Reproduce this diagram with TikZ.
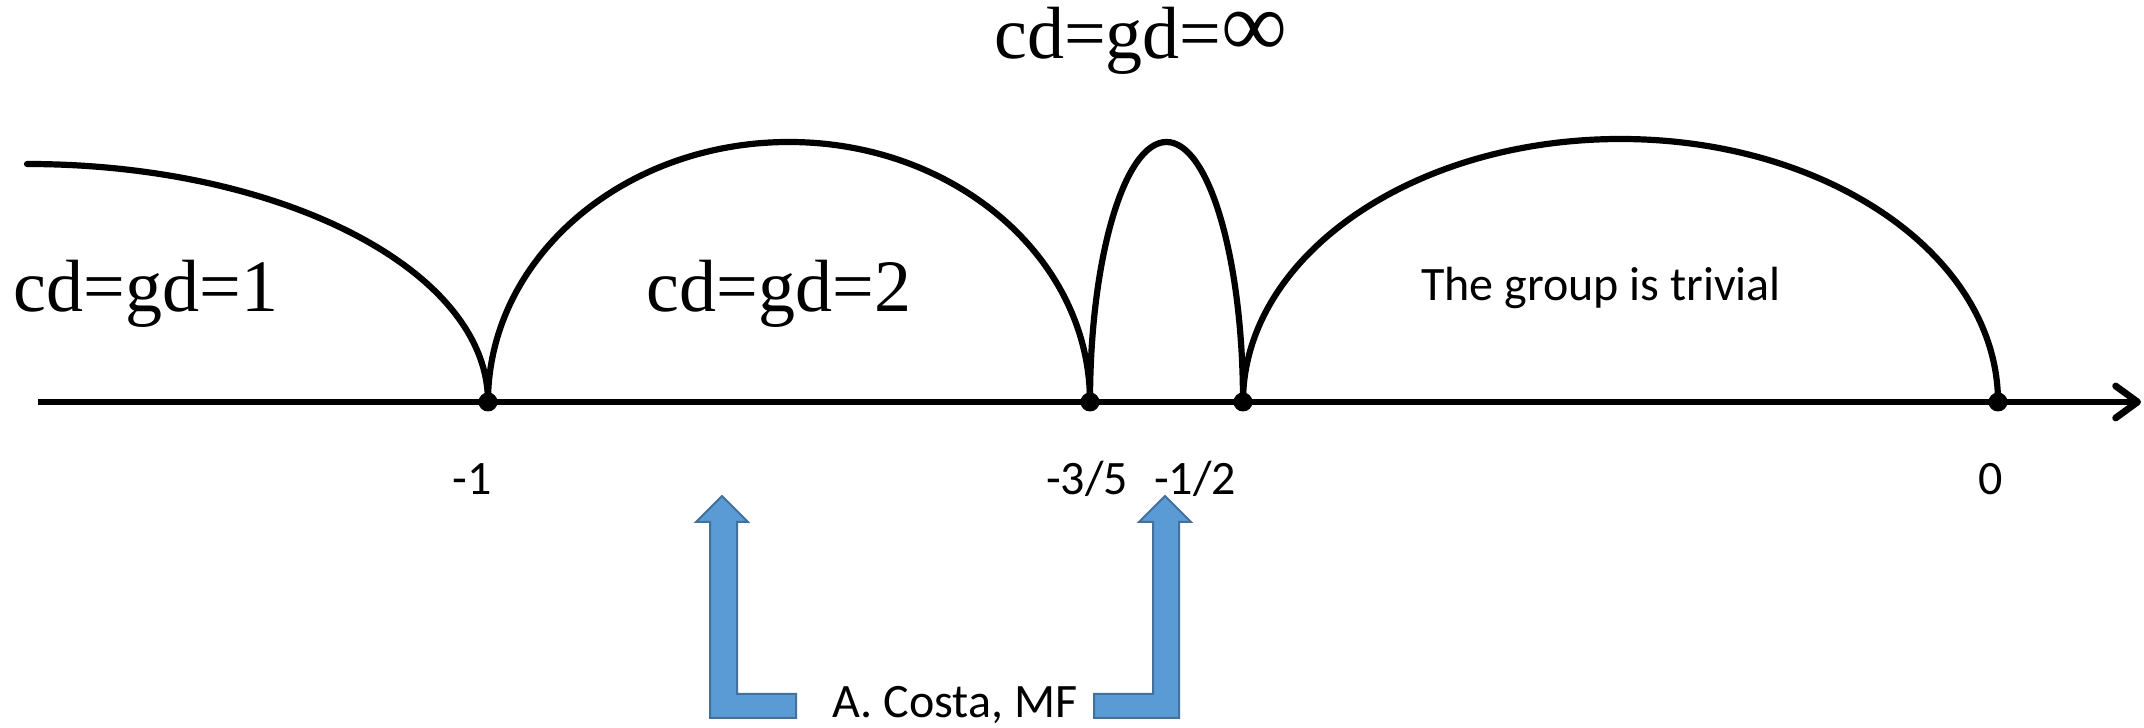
\documentclass[tikz,border=0pt]{standalone}
\usepackage{fontspec}
\setmainfont{Liberation Serif}
\newfontfamily\calibri{Carlito}
\usetikzlibrary{arrows.meta}
\begin{document}
\begin{tikzpicture}[x=0.5pt,y=0.5pt,
  curve/.style={line width=3.1pt, line cap=round},
  axisline/.style={line width=3.4pt, -{Straight Barb[length=11pt,width=16pt,line cap=round,line join=round]}},
  dotnode/.style={circle, fill=black, inner sep=0pt, minimum size=9.5pt},
  biglabel/.style={font=\fontsize{37}{40}\selectfont, inner sep=0pt, anchor=base},
  smalllabel/.style={font=\calibri\fontsize{24}{28}\selectfont, inner sep=0pt, anchor=base},
  bluearrow/.style={fill={rgb,255:red,91;green,155;blue,213}, draw={rgb,255:red,65;green,113;blue,156}, line width=1pt, line join=miter}
]
\useasboundingbox (0,0) rectangle (2144,728);

% axis
\coordinate (axL) at (38,326);
\coordinate (axR) at (2141,326);
\draw[axisline] (axL) -- (axR);

% points
\node[dotnode] (m1)  at (488,326) {};
\node[dotnode] (m35) at (1090,326) {};
\node[dotnode] (m12) at (1243,326) {};
\node[dotnode] (z)   at (1998,326) {};

% arcs
\coordinate (lstart) at (27,564);
\draw[curve] (lstart) arc[start angle=90, end angle=0, x radius=461, y radius=238];
\draw[curve] (m1.center) arc[start angle=180, end angle=0, x radius=301, y radius=260];
\draw[curve] (m35.center) arc[start angle=180, end angle=0, x radius=76.5, y radius=260];
\draw[curve] (m12.center) arc[start angle=180, end angle=0, x radius=377.5, y radius=263];

% region labels
\node[biglabel] (l1) at (146,416) {cd=gd=1};
\node[biglabel] (l2) at (779,416) {cd=gd=2};
\node[biglabel] (linf) at (1141,669) {cd=gd=\raisebox{1pt}{\scalebox{1.25}{∞}}};
\node[smalllabel] (ltriv) at (1601,427) {The group is trivial};

% tick labels
\node[smalllabel] (t1)  at (472,233) {-1};
\node[smalllabel] (t35) at (1087,233) {-3/5};
\node[smalllabel] (t12) at (1195,233) {-1/2};
\node[smalllabel] (t0)  at (1991,233) {0};

% blue arrows
\draw[bluearrow] (722,232) -- (748,206) -- (737,206) -- (737,34) -- (796,34) -- (796,10) -- (710,10) -- (710,206) -- (696,206) -- cycle;
\draw[bluearrow] (1165,232) -- (1191,206) -- (1179,206) -- (1179,10) -- (1094,10) -- (1094,34) -- (1153,34) -- (1153,206) -- (1139,206) -- cycle;
\node[smalllabel] (costa) at (955,10) {A. Costa, MF};
\end{tikzpicture}
\end{document}
